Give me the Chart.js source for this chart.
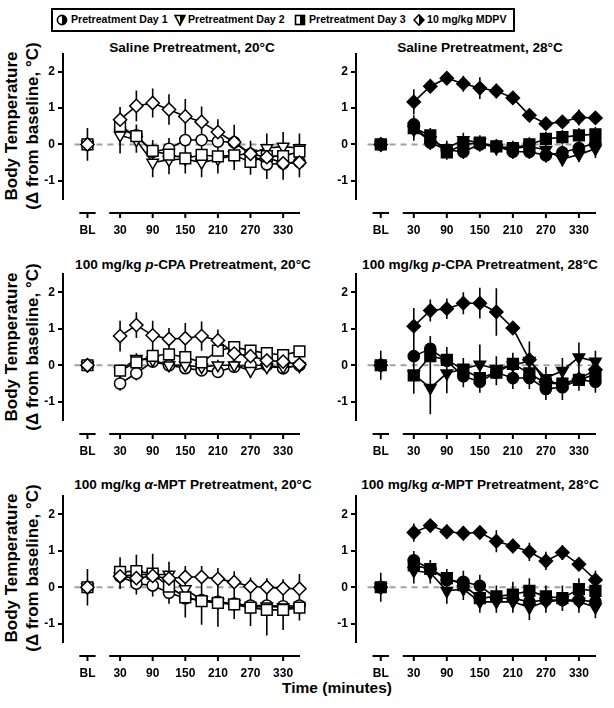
<!DOCTYPE html>
<html>
<head>
<meta charset="utf-8">
<script src="https://cdn.jsdelivr.net/npm/chart.js@4.4.1/dist/chart.umd.min.js"></script>
<style>
  html, body { margin:0; padding:0; background:#fff; }
  body { width:614px; height:708px; position:relative; overflow:hidden;
         font-family:"Liberation Sans", Arial, sans-serif; font-weight:bold; color:#000; }
  canvas { position:absolute; }
  .t { position:absolute; white-space:nowrap; transform:translate(-50%,-50%); }
  .ttl { font-size:13.6px; }
  .ylab { font-size:17px; line-height:21px; text-align:center;
          transform:translate(-50%,-50%) rotate(-90deg); }
  #legend { position:absolute; left:51px; top:8px; width:464px; height:24px;
            border:2px solid #000; box-sizing:border-box; font-size:10.6px; }
  #legend span { position:absolute; top:3px; white-space:nowrap; }
  #legend svg { position:absolute; top:4px; }
</style>
</head>
<body>
<div id="legend">
  <svg style="left:3px" width="12" height="12" viewBox="0 0 12 12"><circle cx="6" cy="6" r="4.6" fill="#fff" stroke="#000" stroke-width="1.6"/><path d="M6 1.4 A4.6 4.6 0 0 1 6 10.6 Z" fill="#000"/></svg>
  <span style="left:18px">Pretreatment Day 1</span>
  <svg style="left:121px" width="12" height="12" viewBox="0 0 12 12"><path d="M1 1.5 L11 1.5 L6 11 Z" fill="#fff" stroke="#000" stroke-width="1.6"/><path d="M6 1.5 L11 1.5 L6 11 Z" fill="#000"/></svg>
  <span style="left:135px">Pretreatment Day 2</span>
  <svg style="left:241px" width="12" height="12" viewBox="0 0 12 12"><rect x="1.5" y="1.5" width="9" height="9" fill="#fff" stroke="#000" stroke-width="1.6"/><rect x="6" y="1.5" width="4.5" height="9" fill="#000"/></svg>
  <span style="left:256px">Pretreatment Day 3</span>
  <svg style="left:360px" width="12" height="12" viewBox="0 0 12 12"><path d="M6 0.8 L11 6 L6 11.2 L1 6 Z" fill="#fff" stroke="#000" stroke-width="1.6"/><path d="M6 0.8 L11 6 L6 11.2 Z" fill="#000"/></svg>
  <span style="left:374px">10 mg/kg MDPV</span>
</div>

<div class="t ttl" style="left:192px;top:47px">Saline Pretreatment, 20°C</div>
<div class="t ttl" style="left:480px;top:47px">Saline Pretreatment, 28°C</div>
<div class="t ttl" style="left:193px;top:264px">100 mg/kg <i>p</i>-CPA Pretreatment, 20°C</div>
<div class="t ttl" style="left:480px;top:264px">100 mg/kg <i>p</i>-CPA Pretreatment, 28°C</div>
<div class="t ttl" style="left:193px;top:484px">100 mg/kg <i>α</i>-MPT Pretreatment, 20°C</div>
<div class="t ttl" style="left:480px;top:484px">100 mg/kg <i>α</i>-MPT Pretreatment, 28°C</div>

<div class="t ylab" style="left:22px;top:126px">Body Temperature<br>(Δ from baseline, °C)</div>
<div class="t ylab" style="left:22px;top:347px">Body Temperature<br>(Δ from baseline, °C)</div>
<div class="t ylab" style="left:22px;top:568px">Body Temperature<br>(Δ from baseline, °C)</div>

<div class="t" style="left:337px;top:688px;font-size:15.5px">Time (minutes)</div>

<canvas id="c0" width="318" height="199" style="left:0;top:40px"></canvas>
<canvas id="c1" width="304" height="199" style="left:310px;top:40px"></canvas>
<canvas id="c2" width="318" height="200" style="left:0;top:260px"></canvas>
<canvas id="c3" width="304" height="200" style="left:310px;top:260px"></canvas>
<canvas id="c4" width="318" height="200" style="left:0;top:482px"></canvas>
<canvas id="c5" width="304" height="200" style="left:310px;top:482px"></canvas>

<script>
// ---------------- data ----------------
const times = [30, 60, 90, 120, 150, 180, 210, 240, 270, 300, 330, 360];
const blValue = -30;                       // x position used for the baseline (BL) point
const tickValues = [-30, 30, 90, 150, 210, 270, 330];
const tickLabels = ['BL', '30', '90', '150', '210', '270', '330'];
const yTicks = [-1, 0, 1, 2];
const seriesNames = ['Pretreatment Day 1', 'Pretreatment Day 2', 'Pretreatment Day 3', '10 mg/kg MDPV'];

// Saline, 20°C
const sal20_day1 = [0.42, 0.25, -0.2, -0.12, 0.12, 0.12, 0.08, 0.06, -0.26, -0.55, -0.52, -0.48];
const sal20_day1_err = [0.3, 0.3, 0.3, 0.3, 0.3, 0.3, 0.3, 0.3, 0.3, 0.4, 0.35, 0.35];
const sal20_day2 = [0.25, 0.12, -0.5, -0.42, -0.4, -0.5, -0.4, -0.3, -0.25, -0.1, -0.06, -0.1];
const sal20_day2_err = [0.5, 0.35, 0.4, 0.4, 0.4, 0.4, 0.4, 0.4, 0.35, 0.4, 0.4, 0.4];
const sal20_day3 = [0.5, 0.23, -0.18, -0.28, -0.38, -0.29, -0.33, -0.3, -0.48, -0.32, -0.32, -0.2];
const sal20_day3_err = [0.3, 0.3, 0.3, 0.35, 0.35, 0.35, 0.35, 0.35, 0.35, 0.35, 0.35, 0.35];
const sal20_mdpv = [0.68, 1.06, 1.14, 0.96, 0.77, 0.62, 0.34, 0.06, -0.26, -0.35, -0.52, -0.5];
const sal20_mdpv_err = [0.35, 0.42, 0.4, 0.42, 0.48, 0.42, 0.35, 0.48, 0.3, 0.55, 0.45, 0.4];
const sal20_bl_err = 0.45;

// Saline, 28°C
const sal28_day1 = [0.55, 0.05, -0.15, -0.2, 0.0, -0.05, -0.2, -0.2, -0.3, -0.22, -0.1, 0.03];
const sal28_day1_err = [0.25, 0.2, 0.2, 0.2, 0.2, 0.2, 0.2, 0.2, 0.2, 0.2, 0.2, 0.2];
const sal28_day2 = [0.4, 0.12, -0.1, 0.12, 0.05, -0.1, -0.12, -0.05, -0.15, -0.4, -0.28, -0.12];
const sal28_day2_err = [0.3, 0.2, 0.2, 0.2, 0.2, 0.2, 0.2, 0.2, 0.2, 0.2, 0.2, 0.25];
const sal28_day3 = [0.45, 0.25, -0.22, 0.0, 0.05, -0.05, -0.1, 0.0, 0.15, 0.2, 0.25, 0.28];
const sal28_day3_err = [0.25, 0.2, 0.2, 0.2, 0.2, 0.2, 0.2, 0.2, 0.2, 0.2, 0.2, 0.2];
const sal28_mdpv = [1.17, 1.6, 1.82, 1.67, 1.55, 1.47, 1.28, 0.8, 0.57, 0.62, 0.74, 0.73];
const sal28_mdpv_err = [0.35, 0.15, 0.1, 0.22, 0.3, 0.2, 0.1, 0.1, 0.1, 0.15, 0.22, 0.12];
const sal28_bl_err = 0.2;

// p-CPA, 20°C
const pcpa20_day1 = [-0.5, -0.22, 0.1, 0.0, -0.08, -0.14, -0.18, -0.04, 0.0, 0.0, -0.08, 0.0];
const pcpa20_day1_err = [0.2, 0.2, 0.15, 0.1, 0.1, 0.1, 0.1, 0.1, 0.1, 0.1, 0.1, 0.1];
const pcpa20_day2 = [-0.15, 0.18, 0.14, 0.0, 0.0, -0.05, 0.0, 0.0, -0.15, -0.05, -0.05, -0.02];
const pcpa20_day2_err = [0.15, 0.15, 0.15, 0.15, 0.15, 0.15, 0.15, 0.15, 0.2, 0.15, 0.15, 0.15];
const pcpa20_day3 = [-0.15, 0.08, 0.26, 0.3, 0.22, 0.08, 0.4, 0.5, 0.4, 0.33, 0.28, 0.38];
const pcpa20_day3_err = [0.15, 0.15, 0.15, 0.15, 0.15, 0.15, 0.15, 0.15, 0.15, 0.15, 0.15, 0.15];
const pcpa20_mdpv = [0.8, 1.1, 0.82, 0.72, 0.74, 0.8, 0.68, 0.32, 0.25, 0.13, 0.1, 0.02];
const pcpa20_mdpv_err = [0.42, 0.35, 0.4, 0.3, 0.42, 0.4, 0.3, 0.15, 0.15, 0.15, 0.15, 0.15];
const pcpa20_bl_err = 0.2;

// p-CPA, 28°C
const pcpa28_day1 = [0.25, 0.45, 0.12, -0.3, -0.45, -0.2, -0.35, -0.35, -0.65, -0.6, -0.4, -0.45];
const pcpa28_day1_err = [0.4, 0.35, 0.3, 0.3, 0.3, 0.3, 0.3, 0.3, 0.3, 0.35, 0.3, 0.3];
const pcpa28_day2 = [-0.25, -0.62, -0.22, -0.1, 0.02, -0.1, 0.0, 0.12, -0.35, -0.15, 0.22, 0.1];
const pcpa28_day2_err = [0.5, 0.72, 0.55, 0.3, 0.55, 0.35, 0.3, 0.4, 0.3, 0.35, 0.4, 0.3];
const pcpa28_day3 = [-0.28, 0.25, 0.15, -0.12, -0.35, -0.2, 0.04, -0.22, -0.5, -0.5, -0.4, -0.25];
const pcpa28_day3_err = [0.5, 0.35, 0.35, 0.3, 0.3, 0.35, 0.3, 0.35, 0.3, 0.3, 0.3, 0.35];
const pcpa28_mdpv = [1.07, 1.5, 1.55, 1.7, 1.7, 1.46, 1.02, 0.15, -0.45, -0.5, -0.38, -0.12];
const pcpa28_mdpv_err = [0.5, 0.3, 0.28, 0.3, 0.42, 0.65, 0.1, 0.5, 0.35, 0.35, 0.3, 0.3];
const pcpa28_bl_err = 0.4;

// alpha-MPT, 20°C
const ampt20_day1 = [0.3, 0.1, 0.05, -0.15, -0.3, -0.35, -0.4, -0.45, -0.5, -0.5, -0.52, -0.5];
const ampt20_day1_err = [0.3, 0.3, 0.3, 0.3, 0.3, 0.3, 0.3, 0.3, 0.3, 0.3, 0.3, 0.3];
const ampt20_day2 = [0.3, 0.35, 0.35, 0.35, -0.05, -0.35, -0.42, -0.45, -0.55, -0.52, -0.55, -0.55];
const ampt20_day2_err = [0.35, 0.35, 0.35, 0.35, 0.35, 0.35, 0.35, 0.35, 0.35, 0.35, 0.35, 0.35];
const ampt20_day3 = [0.42, 0.44, 0.37, 0.02, -0.28, -0.38, -0.43, -0.47, -0.56, -0.62, -0.62, -0.56];
const ampt20_day3_err = [0.4, 0.45, 0.55, 0.4, 0.55, 0.65, 0.65, 0.4, 0.5, 0.7, 0.55, 0.35];
const ampt20_mdpv = [0.3, 0.25, 0.31, 0.24, 0.28, 0.28, 0.23, 0.14, 0.02, 0.0, -0.03, -0.04];
const ampt20_mdpv_err = [0.3, 0.3, 0.3, 0.3, 0.3, 0.3, 0.3, 0.3, 0.25, 0.25, 0.25, 0.4];
const ampt20_bl_err = 0.5;

// alpha-MPT, 28°C
const ampt28_day1 = [0.74, 0.5, 0.2, 0.15, 0.04, -0.3, -0.3, -0.4, -0.35, -0.35, -0.35, -0.4];
const ampt28_day1_err = [0.25, 0.25, 0.3, 0.3, 0.3, 0.3, 0.3, 0.3, 0.3, 0.3, 0.3, 0.3];
const ampt28_day2 = [0.45, 0.4, -0.1, -0.05, -0.4, -0.4, -0.4, -0.55, -0.4, -0.35, -0.4, -0.55];
const ampt28_day2_err = [0.35, 0.3, 0.35, 0.3, 0.3, 0.3, 0.3, 0.35, 0.3, 0.3, 0.3, 0.3];
const ampt28_day3 = [0.6, 0.5, 0.25, 0.06, -0.3, -0.25, -0.2, -0.1, -0.25, -0.3, -0.05, -0.1];
const ampt28_day3_err = [0.3, 0.2, 0.25, 0.3, 0.3, 0.3, 0.35, 0.35, 0.3, 0.35, 0.3, 0.3];
const ampt28_mdpv = [1.5, 1.69, 1.52, 1.48, 1.5, 1.26, 1.13, 0.97, 0.72, 0.95, 0.63, 0.2];
const ampt28_mdpv_err = [0.25, 0.15, 0.2, 0.2, 0.15, 0.3, 0.2, 0.25, 0.25, 0.2, 0.15, 0.25];
const ampt28_bl_err = 0.4;

// ---------------- panels ----------------
const panels = [
  { id:'c0', filled:false, left:true,  bl:sal20_bl_err,  series:[[sal20_day1,sal20_day1_err],[sal20_day2,sal20_day2_err],[sal20_day3,sal20_day3_err],[sal20_mdpv,sal20_mdpv_err]] },
  { id:'c1', filled:true,  left:false, bl:sal28_bl_err,  series:[[sal28_day1,sal28_day1_err],[sal28_day2,sal28_day2_err],[sal28_day3,sal28_day3_err],[sal28_mdpv,sal28_mdpv_err]] },
  { id:'c2', filled:false, left:true,  bl:pcpa20_bl_err, series:[[pcpa20_day1,pcpa20_day1_err],[pcpa20_day2,pcpa20_day2_err],[pcpa20_day3,pcpa20_day3_err],[pcpa20_mdpv,pcpa20_mdpv_err]] },
  { id:'c3', filled:true,  left:false, bl:pcpa28_bl_err, series:[[pcpa28_day1,pcpa28_day1_err],[pcpa28_day2,pcpa28_day2_err],[pcpa28_day3,pcpa28_day3_err],[pcpa28_mdpv,pcpa28_mdpv_err]] },
  { id:'c4', filled:false, left:true,  bl:ampt20_bl_err, series:[[ampt20_day1,ampt20_day1_err],[ampt20_day2,ampt20_day2_err],[ampt20_day3,ampt20_day3_err],[ampt20_mdpv,ampt20_mdpv_err]] },
  { id:'c5', filled:true,  left:false, bl:ampt28_bl_err, series:[[ampt28_day1,ampt28_day1_err],[ampt28_day2,ampt28_day2_err],[ampt28_day3,ampt28_day3_err],[ampt28_mdpv,ampt28_mdpv_err]] },
];

const markerStyles = [
  { pointStyle:'circle',  pointRadius:5.6, rotation:0,   order:3 },
  { pointStyle:'triangle',pointRadius:6.6, rotation:180, order:2 },
  { pointStyle:'rect',    pointRadius:7.6, rotation:0,   order:1 },
  { pointStyle:'rectRot', pointRadius:6.6, rotation:0,   order:0 },
];

const X_MIN = -75, X_MAX = 362;
const AXIS_SEGMENTS = [[-45, -15], [10, 361]];
const ZERO_LINE_FROM = -54;
const FONT = 'Liberation Sans, Arial, sans-serif';

const decor = {
  id: 'decor',
  beforeDatasetsDraw(chart) {
    const { ctx, scales: { x, y } } = chart;
    ctx.save();
    ctx.strokeStyle = '#a0a0a0';
    ctx.lineWidth = 2;
    ctx.setLineDash([6, 5]);
    ctx.beginPath();
    ctx.moveTo(x.getPixelForValue(ZERO_LINE_FROM), y.getPixelForValue(0));
    ctx.lineTo(x.getPixelForValue(X_MAX), y.getPixelForValue(0));
    ctx.stroke();
    ctx.setLineDash([]);
    ctx.strokeStyle = '#000';
    ctx.lineWidth = 1.6;
    ctx.beginPath();
    chart.data.datasets.forEach(ds => {
      ds.data.forEach((p, i) => {
        const e = ds.errors[i];
        if (p.y == null || e == null) return;
        const px = x.getPixelForValue(p.x);
        ctx.moveTo(px, y.getPixelForValue(p.y + e));
        ctx.lineTo(px, y.getPixelForValue(p.y - e));
      });
    });
    ctx.stroke();
    ctx.restore();
  },
  afterDraw(chart) {
    const { ctx, chartArea, scales: { x } } = chart;
    const yy = chartArea.bottom + 14;
    ctx.save();
    ctx.strokeStyle = '#000';
    ctx.lineWidth = 2;
    ctx.beginPath();
    AXIS_SEGMENTS.forEach(([a, b]) => {
      ctx.moveTo(x.getPixelForValue(a), yy);
      ctx.lineTo(x.getPixelForValue(b), yy);
    });
    tickValues.forEach(v => {
      const px = x.getPixelForValue(v);
      ctx.moveTo(px, yy);
      ctx.lineTo(px, yy + 5);
    });
    ctx.stroke();
    ctx.restore();
  }
};

function buildData(vals) {
  return [{ x: blValue, y: 0 }, { x: 0, y: null }].concat(times.map((t, i) => ({ x: t, y: vals[i] })));
}
function buildErr(blErr, errs) {
  return [blErr, null].concat(errs);
}

panels.forEach(p => {
  const fill = p.filled ? '#000' : '#fff';
  const datasets = p.series.map(([vals, errs], k) => ({
    label: seriesNames[k],
    data: buildData(vals),
    errors: buildErr(p.bl, errs),
    borderColor: '#000',
    borderWidth: 1.6,
    pointBackgroundColor: fill,
    pointBorderColor: '#000',
    pointBorderWidth: 1.5,
    pointStyle: markerStyles[k].pointStyle,
    pointRadius: markerStyles[k].pointRadius,
    pointRotation: markerStyles[k].rotation,
    order: markerStyles[k].order,
    spanGaps: false,
    tension: 0,
    clip: false,
    fill: false
  }));
  const padTop = p.id === 'c0' || p.id === 'c1' ? 13.5 : 14;
  const canvasW = p.left ? 318 : 304;
  const yW = p.left ? 63 : 46;
  const plotW = (X_MAX - X_MIN) * 0.5567;
  new Chart(document.getElementById(p.id), {
    type: 'line',
    data: { datasets },
    options: {
      responsive: false,
      animation: false,
      devicePixelRatio: 1,
      layout: { padding: { top: padTop, left: 0, bottom: 0, right: canvasW - yW - plotW } },
      plugins: { legend: { display: false }, tooltip: { enabled: false }, title: { display: false } },
      scales: {
        x: {
          type: 'linear', min: X_MIN, max: X_MAX,
          afterBuildTicks: s => { s.ticks = tickValues.map(v => ({ value: v })); },
          afterFit: s => { s.height = 40; },
          ticks: {
            autoSkip: false, maxRotation: 0, minRotation: 0,
            callback: (v, i) => tickLabels[i],
            font: { family: FONT, size: 12, weight: 'bold' }, color: '#000', padding: 24
          },
          grid: { display: false, drawTicks: false },
          border: { display: false }
        },
        y: {
          min: -1.5, max: 2.5,
          afterBuildTicks: s => { s.ticks = yTicks.map(v => ({ value: v })); },
          afterFit: s => { s.width = yW; },
          ticks: { font: { family: FONT, size: 12, weight: 'bold' }, color: '#000', padding: 3 },
          grid: { drawOnChartArea: false, tickLength: 5, color: '#000', lineWidth: 2 },
          border: { color: '#000', width: 2 }
        }
      }
    },
    plugins: [decor]
  });
});
</script>
</body>
</html>
